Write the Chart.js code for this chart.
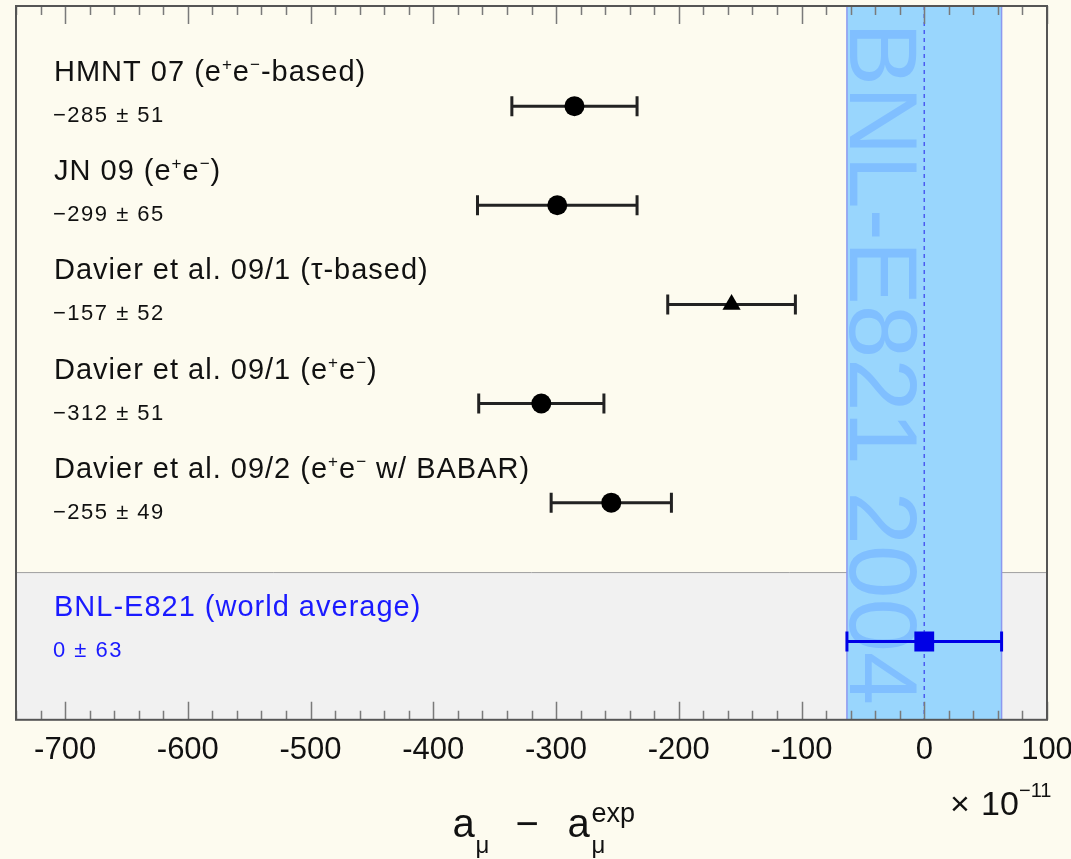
<!DOCTYPE html>
<html lang="en">
<head>
    <meta charset="UTF-8" />
    <title>a_mu - a_mu(exp) comparison</title>
    <style>
        body {
            margin: 0;
            background-color: #fdfbef;
        }
        canvas { display: block; }
    </style>
</head>
<body>
    <canvas id="chart-1" width="1071" height="859"></canvas>

    <script src="https://cdn.jsdelivr.net/npm/chart.js"></script>

    <script>
        // values are in units of 1e-11, "^" marks a one-character superscript
        const names = [
            "HMNT 07 (e^+e^−-based)",
            "JN 09 (e^+e^−)",
            "Davier et al. 09/1 (τ-based)",
            "Davier et al. 09/1 (e^+e^−)",
            "Davier et al. 09/2 (e^+e^− w/ BABAR)",
            "BNL-E821 (world average)"
        ];
        const central = [-285, -299, -157, -312, -255, 0];
        const errors = [51, 65, 52, 51, 49, 63];
        const rows = [1, 2, 3, 4, 5, 6.4];
        const markers = ["circle", "circle", "triangle", "circle", "circle", "rect"];
        const refIndex = 5;          // world average -> blue band
        const refRowFrom = 5.7;      // grey area under the world average
        const bandText = "BNL-E821 2004";
        const xTicks = [-700, -600, -500, -400, -300, -200, -100, 0, 100];
        const minorStep = 20;

        const FONT = '"Liberation Sans", Arial, sans-serif';
        const colors = names.map((_, i) => i === refIndex ? "#0000e6" : "#000000");

        function fmtValue(i) {
            const c = central[i];
            return (c < 0 ? "−" : "") + Math.abs(c) + " ± " + errors[i];
        }

        // draw text where "^x" is a raised small character
        function drawRich(ctx, str, x, y, size) {
            let cx = x;
            let buf = "";
            const flush = () => {
                if (!buf) return;
                ctx.font = size + "px " + FONT;
                ctx.fillText(buf, cx, y);
                cx += ctx.measureText(buf).width;
                buf = "";
            };
            for (let i = 0; i < str.length; i++) {
                if (str[i] === "^") {
                    flush();
                    const ch = str[++i];
                    const s = Math.round(size * 0.6);
                    ctx.font = s + "px " + FONT;
                    ctx.fillText(ch, cx, y - size * 0.38);
                    cx += ctx.measureText(ch).width;
                } else {
                    buf += str[i];
                }
            }
            flush();
        }

        const forestPlugin = {
            id: "forest",
            beforeDatasetsDraw(chart) {
                const { ctx, chartArea: a, scales: { x, y } } = chart;
                ctx.save();

                // grey area for the reference measurement
                const gy = y.getPixelForValue(refRowFrom);
                ctx.fillStyle = "#f1f1f1";
                ctx.fillRect(a.left, gy, a.right - a.left, a.bottom - gy);
                ctx.strokeStyle = "#a0a0a0";
                ctx.lineWidth = 1;
                ctx.beginPath();
                ctx.moveTo(a.left, gy + 0.5);
                ctx.lineTo(a.right, gy + 0.5);
                ctx.stroke();

                // blue band
                const bl = x.getPixelForValue(central[refIndex] - errors[refIndex]);
                const br = x.getPixelForValue(central[refIndex] + errors[refIndex]);
                ctx.fillStyle = "#99d6fd";
                ctx.fillRect(bl, a.top, br - bl, a.bottom - a.top);

                // big rotated label in the band
                ctx.save();
                ctx.beginPath();
                ctx.rect(bl, a.top, br - bl, a.bottom - a.top);
                ctx.clip();
                ctx.translate(bl + 3, a.top + 16);
                ctx.rotate(Math.PI / 2);
                ctx.fillStyle = "#80bfff";
                ctx.font = "96px " + FONT;
                ctx.textBaseline = "alphabetic";
                ctx.fillText(bandText, 0, 0);
                ctx.restore();

                ctx.strokeStyle = "#8c98f0";
                ctx.lineWidth = 1.5;
                ctx.beginPath();
                ctx.moveTo(bl, a.top); ctx.lineTo(bl, a.bottom);
                ctx.moveTo(br, a.top); ctx.lineTo(br, a.bottom);
                ctx.stroke();

                // dashed line at the reference value
                const cx0 = x.getPixelForValue(central[refIndex]);
                ctx.strokeStyle = "#4a5cf0";
                ctx.lineWidth = 1.5;
                ctx.setLineDash([4, 4]);
                ctx.beginPath();
                ctx.moveTo(cx0, a.top);
                ctx.lineTo(cx0, a.bottom);
                ctx.stroke();
                ctx.setLineDash([]);

                // tick marks, inside, top and bottom
                ctx.strokeStyle = "#7a7a7a";
                ctx.lineWidth = 1.5;
                ctx.beginPath();
                for (let v = Math.ceil(x.min / minorStep) * minorStep; v <= x.max; v += minorStep) {
                    const px = Math.round(x.getPixelForValue(v)) + 0.5;
                    const len = xTicks.includes(v) ? 18 : 9;
                    ctx.moveTo(px, a.bottom); ctx.lineTo(px, a.bottom - len);
                    ctx.moveTo(px, a.top); ctx.lineTo(px, a.top + len);
                }
                ctx.stroke();

                // frame
                ctx.strokeStyle = "#555555";
                ctx.lineWidth = 2;
                ctx.strokeRect(a.left, a.top, a.right - a.left, a.bottom - a.top);

                // error bars
                ctx.lineWidth = 3;
                central.forEach((c, i) => {
                    const py = y.getPixelForValue(rows[i]);
                    const lo = x.getPixelForValue(c - errors[i]);
                    const hi = x.getPixelForValue(c + errors[i]);
                    ctx.strokeStyle = i === refIndex ? colors[i] : "#222222";
                    ctx.beginPath();
                    ctx.moveTo(lo, py); ctx.lineTo(hi, py);
                    ctx.moveTo(lo, py - 10); ctx.lineTo(lo, py + 10);
                    ctx.moveTo(hi, py - 10); ctx.lineTo(hi, py + 10);
                    ctx.stroke();
                });
                ctx.restore();
            },
            afterDatasetsDraw(chart) {
                const { ctx, chartArea: a, scales: { y } } = chart;
                ctx.save();
                ctx.textBaseline = "alphabetic";
                ctx.textAlign = "left";
                names.forEach((name, i) => {
                    const py = y.getPixelForValue(rows[i]);
                    ctx.fillStyle = i === refIndex ? "#1a1aff" : "#111111";
                    ctx.letterSpacing = "1px";
                    drawRich(ctx, name, a.left + 38, py - 25, 29);
                    ctx.letterSpacing = "1.5px";
                    ctx.font = "22px " + FONT;
                    ctx.fillText(fmtValue(i), a.left + 37, py + 16);
                });
                ctx.letterSpacing = "0px";

                // axis title  a_mu - a_mu^exp
                ctx.fillStyle = "#111111";
                const x0 = (a.left + a.right) / 2 - 79;
                const tb = 837;
                ctx.font = "40px " + FONT;
                ctx.fillText("a", x0, tb);
                ctx.fillText("−", x0 + 63, tb);
                ctx.fillText("a", x0 + 115, tb);
                ctx.font = "24px " + FONT;
                ctx.fillText("μ", x0 + 23, tb + 16);
                ctx.fillText("μ", x0 + 139, tb + 16);
                ctx.font = "27px " + FONT;
                ctx.fillText("exp", x0 + 139, tb - 15);

                // multiplier
                ctx.font = "34px " + FONT;
                ctx.fillText("×", a.right - 97, 815);
                ctx.fillText("10", a.right - 66, 815);
                ctx.font = "20px " + FONT;
                ctx.fillText("−11", a.right - 28, 797);
                ctx.restore();
            }
        };

        const ctx = document.getElementById("chart-1").getContext("2d");
        const chart = new Chart(ctx, {
            type: "scatter",
            data: {
                datasets: [{
                    data: central.map((c, i) => ({ x: c, y: rows[i] })),
                    pointStyle: markers,
                    pointRadius: markers.map(m => m === "rect" ? 14 : m === "triangle" ? 10.5 : 10),
                    pointBorderWidth: 0,
                    backgroundColor: colors,
                    borderColor: colors,
                }],
            },
            options: {
                responsive: false,
                animation: false,
                layout: {
                    autoPadding: false,
                    padding: { left: 16, right: 24, top: 6, bottom: 78 },
                },
                plugins: {
                    legend: { display: false },
                    tooltip: { enabled: false },
                },
                scales: {
                    x: {
                        type: "linear",
                        min: -740,
                        max: 100,
                        afterBuildTicks: s => { s.ticks = xTicks.map(v => ({ value: v })); },
                        // let the layout padding alone decide the plot edges
                        afterFit: s => { s.paddingLeft = 0; s.paddingRight = 0; },
                        ticks: {
                            font: { family: FONT, size: 31 },
                            color: "#111111",
                            padding: 12,
                            maxRotation: 0,
                        },
                        grid: { display: false, drawTicks: false },
                        border: { display: false },
                    },
                    y: {
                        type: "linear",
                        reverse: true,
                        min: -0.01,
                        max: 7.19,
                        display: false,
                    },
                },
            },
            plugins: [forestPlugin],
        });
    </script>
</body>
</html>
